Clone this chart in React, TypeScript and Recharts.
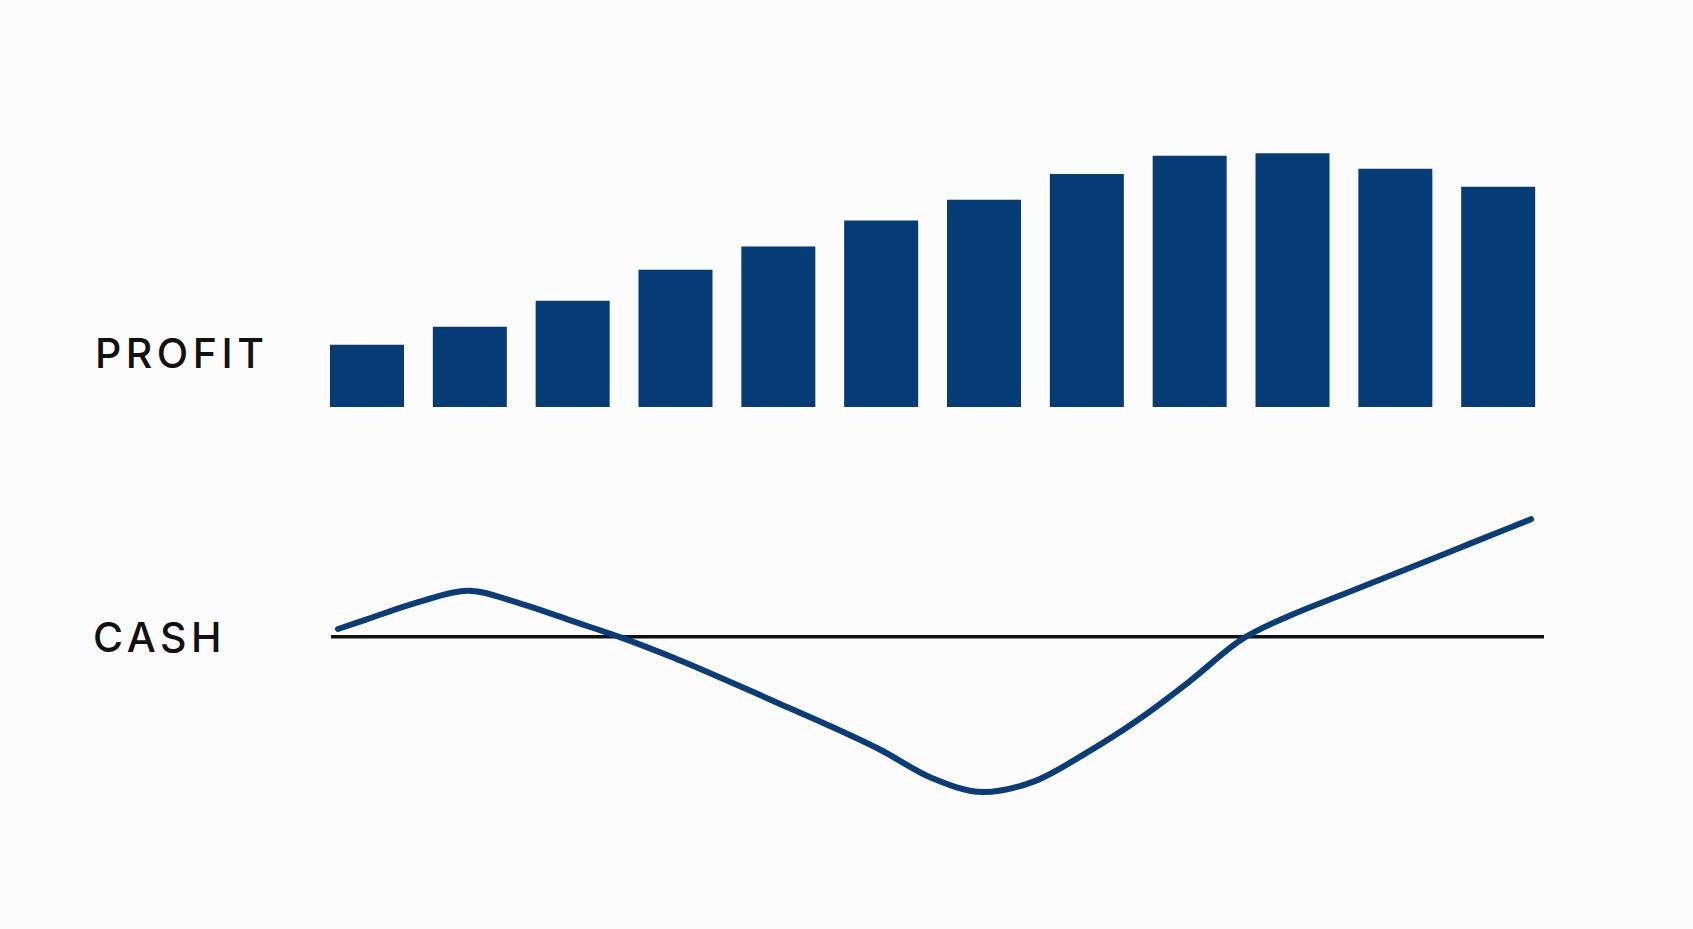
import { BarChart, Bar, LineChart, Line, XAxis, YAxis, ReferenceLine } from "recharts";

const MONTHS = ["Jan", "Feb", "Mar", "Apr", "May", "Jun", "Jul", "Aug", "Sep", "Oct", "Nov", "Dec"];
const PROFIT = [24, 31, 41, 53, 62, 72, 80, 90, 97, 98, 92, 85];

// cash at evenly spaced fractional months (0 = Jan, 11 = Dec)
const CASH_MONTH = [
  0, 0.25, 0.725, 1.2, 1.675, 2.15, 2.625, 3.1, 3.575, 4.05, 4.525, 5.0,
  5.475, 5.95, 6.425, 6.9, 7.375, 7.85, 8.325, 8.8, 9.275, 9.75, 10.225, 10.7, 11,
];
const CASH = [
  5, 10.8, 21.8, 29.4, 21.3, 10.3, -0.8, -13.5, -27.5, -42, -56.5, -72,
  -90, -99, -92, -74, -53, -28.5, -2, 14.2, 27.3, 40.4, 53.5, 66.7, 75,
];

const NAVY = "#053c76";

const profitData = MONTHS.map((name, i) => ({ name, value: PROFIT[i] }));
const cashData = CASH_MONTH.map((m, i) => ({ m, value: CASH[i] }));

const labelStyle: React.CSSProperties = {
  position: "absolute",
  fontFamily: "Inter, 'Noto Sans', sans-serif",
  fontSize: 41,
  fontWeight: 500,
  letterSpacing: 4.5,
  color: "#111",
  lineHeight: "41px",
};

export default function App() {
  return (
    <div style={{ position: "fixed", left: 0, top: 0, width: 1693, height: 929, background: "#fcfcfd" }}>
      <div style={{ ...labelStyle, left: 95, top: 333 }}>PROFIT</div>
      <div style={{ ...labelStyle, left: 93, top: 617 }}>CASH</div>

      <div style={{ position: "absolute", left: 316, top: 148 }}>
        <BarChart width={1234} height={259} data={profitData} margin={{ top: 0, right: 0, bottom: 0, left: 0 }}>
          <XAxis dataKey="name" hide />
          <YAxis hide domain={[0, 100]} />
          <Bar dataKey="value" fill={NAVY} barSize={74} isAnimationActive={false} />
        </BarChart>
      </div>

      <div style={{ position: "absolute", left: 331, top: 480 }}>
        <LineChart width={1213} height={345} data={cashData} margin={{ top: 0, right: 0, bottom: 0, left: 0 }}>
          <XAxis dataKey="m" type="number" hide domain={[-0.065, 11.12]} />
          <YAxis hide domain={[-120, 100]} />
          <ReferenceLine y={0} stroke="#111" strokeWidth={3.5} />
          <Line type="monotone" dataKey="value" stroke="#0a3d78" strokeWidth={6} strokeLinecap="round"
            dot={false} activeDot={false} isAnimationActive={false} />
        </LineChart>
      </div>
    </div>
  );
}
